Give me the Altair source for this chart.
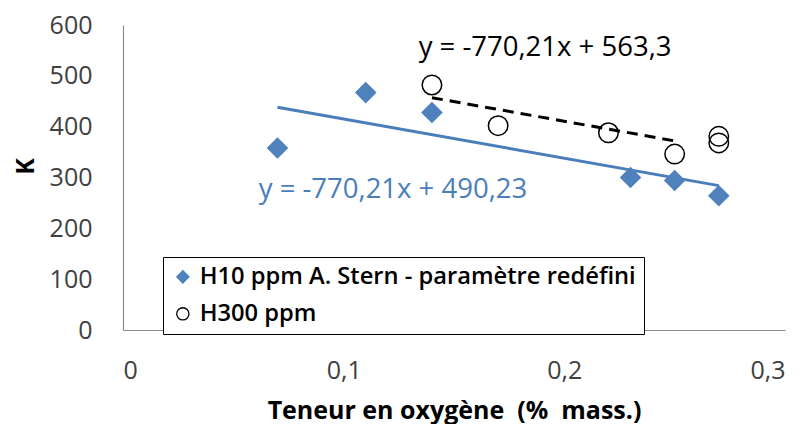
import altair as alt
import pandas as pd

# Data
series_names = ["H10 ppm A. Stern - paramètre redéfini", "H300 ppm"]
h10_x = [0.07, 0.11, 0.14, 0.23, 0.25, 0.27]
h10_y = [358, 467, 428, 300, 294, 264]
h300_x = [0.14, 0.17, 0.22, 0.25, 0.27, 0.27]
h300_y = [482, 402, 388, 346, 381, 368]

# trend lines (end points)
trend_h10_x = [0.07, 0.27]
trend_h10_y = [438, 284]
trend_h300_x = [0.14, 0.25]
trend_h300_y = [457, 372]

eq_text = ["y = -770,21x + 563,3", "y = -770,21x + 490,23"]
eq_x = [0.134, 0.0615]
eq_y = [555, 276]
eq_color = ["#000000", "#4A7EBB"]

x_ticks = [0, 0.1, 0.2, 0.3]
y_ticks = [0, 100, 200, 300, 400, 500, 600]

pts = pd.DataFrame({
    "x": h10_x + h300_x,
    "y": h10_y + h300_y,
    "serie": [series_names[0]] * len(h10_x) + [series_names[1]] * len(h300_x),
})
t1 = pd.DataFrame({"x": trend_h10_x, "y": trend_h10_y})
t2 = pd.DataFrame({"x": trend_h300_x, "y": trend_h300_y})
eqs = pd.DataFrame({"x": eq_x, "y": eq_y, "t": eq_text, "c": eq_color})

FONT = "Open Sans"

xscale = alt.Scale(domain=[0, 0.3], nice=False, zero=False)
yscale = alt.Scale(domain=[0, 600], nice=False)

xaxis = alt.Axis(
    values=x_ticks,
    labelExpr="replace(format(datum.value, '.1~f'), '.', ',')",
    title="Teneur en oxygène \u00a0(% \u00a0mass.)",
    titleFont=FONT, titleFontSize=25, titleFontWeight="bold", titleColor="#000000",
    titleBaseline="middle", titleY=80, titleX=331,
    labelFont=FONT, labelFontSize=25, labelColor="#404040", labelPadding=28,
    ticks=False, grid=False, domainColor="#8c8c8c", domainWidth=1.2,
)
yaxis = alt.Axis(
    values=y_ticks,
    title="K",
    titleFont=FONT, titleFontSize=25, titleFontWeight="bold", titleColor="#000000",
    titleX=-98, titleY=141, titleBaseline="middle", titleAlign="center",
    labelFont=FONT, labelFontSize=25, labelColor="#404040", labelPadding=31,
    ticks=False, grid=False, domainColor="#8c8c8c", domainWidth=1.2,
)

line1 = alt.Chart(t1).mark_line(color="#4A7EBB", strokeWidth=3).encode(
    x=alt.X("x:Q", scale=xscale, axis=xaxis),
    y=alt.Y("y:Q", scale=yscale, axis=yaxis),
)
line2 = alt.Chart(t2).mark_line(color="#000000", strokeWidth=3, strokeDash=[11, 7]).encode(
    x=alt.X("x:Q", scale=xscale),
    y=alt.Y("y:Q", scale=yscale),
)

legend = alt.Legend(
    title=None, orient="none", legendX=40, legendY=232,
    strokeColor="#000000", fillColor="#ffffff", padding=8,
    labelFont=FONT, labelFontSize=23.7, labelFontWeight=600, labelColor="#000000",
    labelLimit=800,
    symbolSize=150, symbolStrokeWidth=1.3, labelOffset=5, rowPadding=12,
)
points = alt.Chart(pts).mark_point(size=380, filled=False, strokeWidth=1.5, opacity=1).encode(
    x=alt.X("x:Q", scale=xscale),
    y=alt.Y("y:Q", scale=yscale),
    shape=alt.Shape("serie:N", scale=alt.Scale(domain=series_names, range=["diamond", "circle"]), legend=legend),
    fill=alt.Fill("serie:N", scale=alt.Scale(domain=series_names, range=["#4F81BD", "transparent"]), legend=legend),
    stroke=alt.Stroke("serie:N", scale=alt.Scale(domain=series_names, range=["#4F81BD", "#000000"]), legend=legend),
)

texts = alt.Chart(eqs).mark_text(align="left", baseline="middle", font=FONT, fontSize=27.5).encode(
    x=alt.X("x:Q", scale=xscale),
    y=alt.Y("y:Q", scale=yscale),
    text="t:N",
    color=alt.Color("c:N", scale=None),
)

chart = alt.layer(line1, line2, points, texts).properties(
    width=662, height=305,
    autosize=alt.AutoSizeParams(type="none"),
    padding={"left": 115, "top": 17, "right": 13, "bottom": 94},
    background="#ffffff",
).configure_view(stroke=None)

chart.save("out.html", embed_options={"renderer": "svg", "actions": False})
